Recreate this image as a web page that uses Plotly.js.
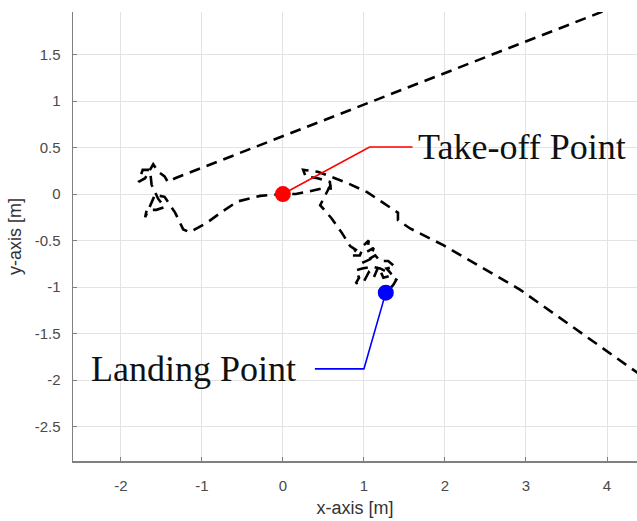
<!DOCTYPE html>
<html>
<head>
<meta charset="utf-8">
<script src="https://cdn.plot.ly/plotly-3.0.1.min.js"></script>
<style>html,body{margin:0;padding:0;background:#fff;}#chart{width:637px;height:521px;}</style>
</head>
<body>
<div id="chart"></div>
<script>
// Trajectory (x, y in metres); null separates strands
const trajX = [4.6, 2.93, 1.98, 1.57, 1.42, 1.42, 1.23, 1.04, 0.79, 0.62, 0.43, 0.25, 0.28, 0.43, 0.58, 0.59, 0.48, 0.33, 0.16, 0.0,
  -0.28, -0.56, -0.75, -0.94, -1.15, -1.23, -1.33, -1.46,
  -1.58, -1.7, -1.68, -1.56, -1.46, -1.54, -1.62, -1.64, -1.73, -1.78, -1.7, -1.6, -1.54, -1.46, -1.42, -1.33,
  3.94, 4.5,
  null,
  0.59, 0.5, 0.46, 0.6, 0.73, 0.83,
  0.9, 0.84, 0.95, 1.0, 1.06, 1.04, 1.12, 1.08, 0.98, 1.14, 1.2, 1.3, 1.38, 1.28, 1.34, 1.2, 1.1, 0.98, 0.9,
  0.94, 0.9, 1.0, 1.06, 1.12, 1.18, 1.24, 1.32, 1.4, 1.36, 1.27];
const trajY = [-2.06, -1.03, -0.55, -0.37, -0.28, -0.2, -0.09, 0.02, 0.12, 0.18, 0.24, 0.26, 0.19, 0.17, 0.13, 0.06, 0.06, 0.03, 0.0, 0.0,
  -0.02, -0.08, -0.19, -0.31, -0.41, -0.38, -0.2, -0.03,
  -0.01, -0.25, -0.17, -0.17, -0.14, -0.05, 0.1, 0.26, 0.26, 0.13, 0.17, 0.32, 0.24, 0.19, 0.13, 0.17,
  1.96, 2.15,
  null,
  0.1, -0.05, -0.12, -0.26, -0.42, -0.56,
  -0.6, -0.66, -0.66, -0.55, -0.5, -0.62, -0.58, -0.7, -0.74, -0.66, -0.72, -0.72, -0.78, -0.8, -0.86, -0.8, -0.78, -0.8, -0.82,
  -0.9, -0.96, -0.94, -0.84, -0.9, -0.78, -0.9, -0.88, -0.92, -0.98, -1.06];

// Key points
const takeoffX = [0];
const takeoffY = [0];
const landingX = [1.27];
const landingY = [-1.06];

// Label leader lines
const takeoffLeaderX = [0, 1.07, 1.6];
const takeoffLeaderY = [0, 0.505, 0.505];
const landingLeaderX = [1.27, 1.0, 0.395];
const landingLeaderY = [-1.06, -1.88, -1.88];
const takeoffLabel = {text: 'Take-off Point', x: 1.64, y: 0.505};
const landingLabel = {text: 'Landing Point', x: 0.185, y: -1.88};

const xTicks = [-2, -1, 0, 1, 2, 3, 4];
const yTicks = [-2.5, -2, -1.5, -1, -0.5, 0, 0.5, 1, 1.5];

const traces = [
  {x: trajX, y: trajY, mode: 'lines', connectgaps: false,
   line: {color: '#000', width: 2.6, dash: '11px,7px'}, hoverinfo: 'skip'},
  {x: takeoffLeaderX, y: takeoffLeaderY, mode: 'lines', line: {color: '#ff0000', width: 1.6}},
  {x: landingLeaderX, y: landingLeaderY, mode: 'lines', line: {color: '#0000ff', width: 1.6}},
  {x: takeoffX, y: takeoffY, mode: 'markers', marker: {color: '#ff0000', size: 16}},
  {x: landingX, y: landingY, mode: 'markers', marker: {color: '#0000ff', size: 16}}
];

const axisCommon = {
  showgrid: true, gridcolor: '#e3e3e3', gridwidth: 1,
  zeroline: false, showline: true, linecolor: '#808080', linewidth: 1.5,
  ticks: 'inside', ticklen: 4, tickcolor: '#808080', tickwidth: 1,
  tickfont: {family: 'Liberation Sans, Arial, sans-serif', size: 15, color: '#4a4a4a'},
  automargin: false, mirror: false
};

const layout = {
  width: 637, height: 521,
  margin: {l: 73, r: 0, t: 12, b: 60},
  paper_bgcolor: '#fff', plot_bgcolor: '#fff',
  showlegend: false,
  xaxis: Object.assign({}, axisCommon, {
    range: [-2.59, 4.37], tickvals: xTicks, ticktext: xTicks.map(String),
    ticklabelstandoff: 10,
    title: {text: 'x-axis [m]', font: {family: 'Liberation Sans, Arial, sans-serif', size: 18, color: '#333'}, standoff: 9}
  }),
  yaxis: Object.assign({}, axisCommon, {
    range: [-2.87, 1.957], tickvals: yTicks, ticktext: yTicks.map(String),
    ticklabelstandoff: 8,
    title: {text: 'y-axis [m]', font: {family: 'Liberation Sans, Arial, sans-serif', size: 18, color: '#333'}, standoff: 8}
  }),
  annotations: [
    {x: takeoffLabel.x, y: takeoffLabel.y, text: takeoffLabel.text, showarrow: false,
     xanchor: 'left', yanchor: 'middle',
     font: {family: 'Liberation Serif, Times New Roman, serif', size: 36, color: '#111'}},
    {x: landingLabel.x, y: landingLabel.y, text: landingLabel.text, showarrow: false,
     xanchor: 'right', yanchor: 'middle',
     font: {family: 'Liberation Serif, Times New Roman, serif', size: 36, color: '#111'}}
  ]
};

Plotly.newPlot('chart', traces, layout, {displayModeBar: false, staticPlot: true});
</script>
</body>
</html>
